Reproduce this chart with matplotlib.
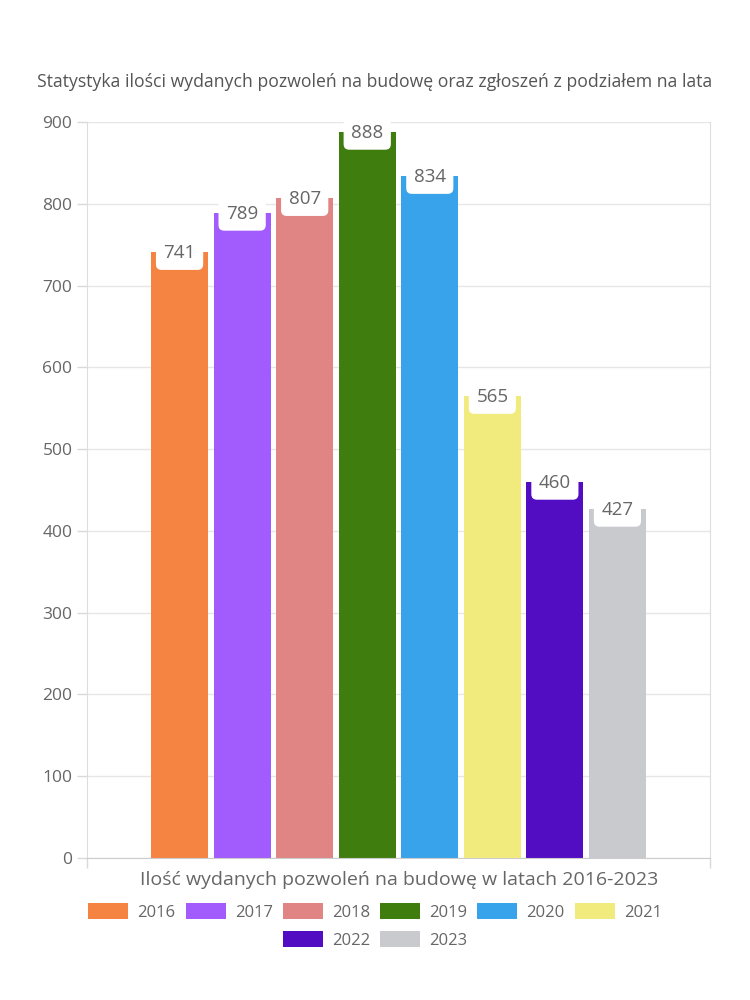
import matplotlib
matplotlib.use("Agg")
import matplotlib.pyplot as plt
import numpy as np

plt.rcParams['font.family'] = ['Open Sans', 'DejaVu Sans']

years = ["2016", "2017", "2018", "2019", "2020", "2021", "2022", "2023"]
values = [741, 789, 807, 888, 834, 565, 460, 427]
colors = ["#F58442", "#A25BFC", "#E08584", "#3E7D0E", "#38A3EA", "#F0EB7C", "#520CC2", "#C9CACE"]
title = "Statystyka ilości wydanych pozwoleń na budowę oraz zgłoszeń z podziałem na lata"
xlabel = "Ilość wydanych pozwoleń na budowę w latach 2016-2023"
yticks = [0, 100, 200, 300, 400, 500, 600, 700, 800, 900]

TXT = "#666666"
GRID = "#e6e6e6"

fig = plt.figure(figsize=(7.5, 10), dpi=100)
ax = fig.add_axes([0.116, 0.142, 0.8307, 0.736])

x = np.arange(len(values))
handles = []
for xi, v, c, yr in zip(x, values, colors, years):
    b = ax.bar(xi, v, width=0.91, color=c, label=yr, zorder=2)
    handles.append(b)
    ax.annotate(str(v), (xi, v), xytext=(0, -1), textcoords="offset points",
                ha="center", va="center", fontsize=13.5, color=TXT, zorder=5,
                bbox=dict(boxstyle="round,pad=0.4,rounding_size=0.3", fc="white", ec="none"))

xmin, xmax = -1.48, 8.48
ax.set_xlim(xmin, xmax)
ax.set_ylim(0, 900)
ax.set_yticks(yticks)
ax.set_yticklabels([str(t) for t in yticks], fontsize=12.5, color=TXT)
ax.set_xticks([xmin, xmax])
ax.set_xticklabels(["", ""])
ax.tick_params(axis="both", length=7, width=1, color="#d9d9d9")
ax.yaxis.grid(True, color=GRID, linewidth=1, zorder=0)
ax.set_axisbelow(True)
for s in ["left", "right"]:
    ax.spines[s].set_color("#dddddd")
ax.spines["bottom"].set_color("#cccccc")
ax.spines["top"].set_visible(False)

fig.text(0.5, 1 - 82 / 1000, title, ha="center", va="center", fontsize=12.7, color="#555555")
fig.text(399 / 750, 1 - 880 / 1000, xlabel, ha="center", va="center", fontsize=14, color=TXT)

leg_kw = dict(frameon=False, fontsize=12, handlelength=2.4, handleheight=1.05,
              handletextpad=0.55, columnspacing=0.6, labelcolor=TXT)
leg1 = fig.legend(handles[:6], years[:6], ncol=6, loc="center",
                  bbox_to_anchor=(0.5, 1 - 912 / 1000), **leg_kw)
leg2 = fig.legend(handles[6:], years[6:], ncol=2, loc="center",
                  bbox_to_anchor=(0.5, 1 - 940 / 1000), **leg_kw)

fig.savefig("out.png", dpi=100, facecolor="white")
